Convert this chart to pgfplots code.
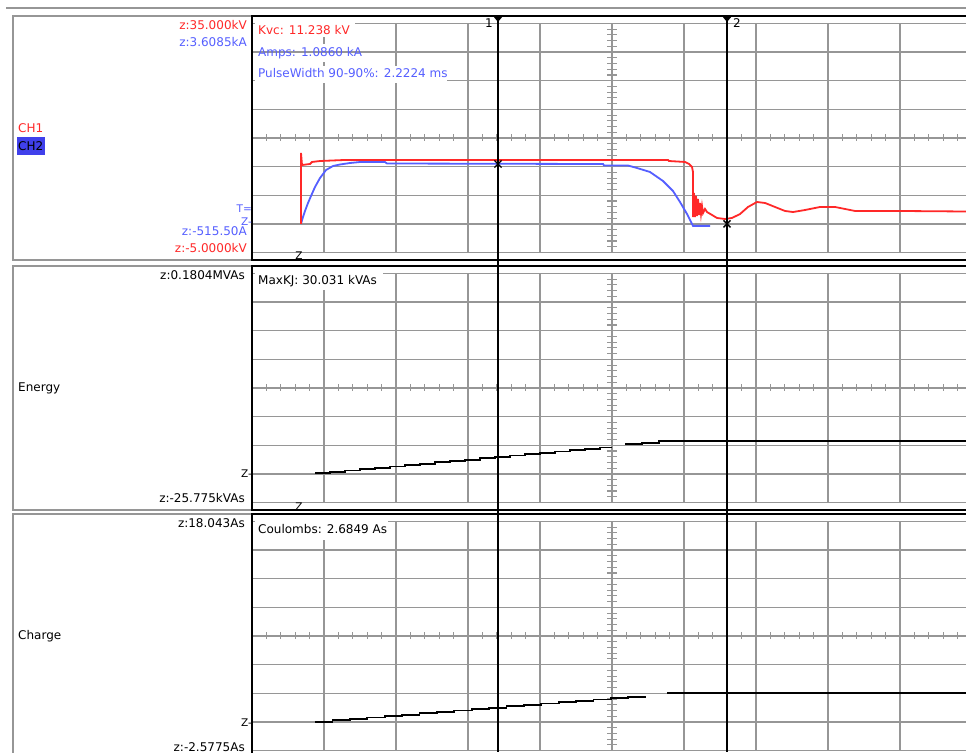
\documentclass[border=0pt]{standalone}
\usepackage{fontspec}
\setmainfont{DejaVu Sans}
\usepackage{pgfplots}
\pgfplotsset{compat=1.18}
\definecolor{chred}{RGB}{255,40,40}
\definecolor{chblue}{RGB}{85,95,255}
\definecolor{gridc}{RGB}{150,150,150}
\definecolor{chbox}{RGB}{64,64,235}
\pgfplotsset{scopeaxis/.style={scale only axis, width=714pt, xmin=-2.5, xmax=2.4583, hide axis, anchor=south west, clip=true}}
\newcommand{\lf}{\fontsize{12}{14}\selectfont}
\newcommand{\zf}{\fontsize{10.5}{12}\selectfont}
\newcommand{\panelgrid}[1]{%
 \pgfmathsetmacro{\pgG}{#1+7.5}%
 \pgfmathsetmacro{\pgB}{#1+236.5}%
 \pgfmathsetmacro{\pgC}{#1+122}%
 \foreach \k in {0,...,8}{\draw[gridc,line width=1.3pt] (252,{\pgG+28.625*\k}) -- (972,{\pgG+28.625*\k});}%
 \foreach \k in {1,...,9}{\draw[gridc,line width=1.3pt] ({252+72*\k},\pgG) -- ({252+72*\k},\pgB);}%
 \foreach \j in {1,...,39}{\draw[gridc,line width=1.1pt] (607,{\pgG+5.725*\j}) -- (617,{\pgG+5.725*\j});}%
 \foreach \j in {1,...,49}{\draw[gridc,line width=1.1pt] ({252+14.4*\j},{\pgC-3.5}) -- ({252+14.4*\j},{\pgC+3.5});}%
}
\begin{document}
\begin{tikzpicture}
\useasboundingbox (0,0) rectangle (966pt,752pt);
% ---------- background: frames, grids ----------
\begin{scope}[x=1pt,y=1pt,yshift=752pt,yscale=-1]
\clip (0,0) rectangle (966,752);
\fill[white] (0,0) rectangle (966,752);
\draw[gridc,line width=1.3pt] (6,8) -- (966,8);
\draw[gridc,line width=1.1pt] (13,16) rectangle (990,260);
\draw[gridc,line width=1.1pt] (13,266) rectangle (990,510);
\draw[gridc,line width=1.1pt] (13,514) rectangle (990,790);
\panelgrid{16}
\panelgrid{266}
\panelgrid{514}
% white text boxes
\fill[white] (255,17) rectangle (355,37);
\fill[white] (255,44) rectangle (366,62);
\draw[gridc,line width=1.3pt] (252,52.125) -- (972,52.125);
\fill[white] (255,66) rectangle (447,83);
\fill[white] (255,267) rectangle (383,290);
\fill[white] (255,515) rectangle (388,540);
% black frames
\draw[black,line width=1.6pt] (252,16) rectangle (975,260);
\draw[black,line width=1.6pt] (252,266) rectangle (975,510);
\draw[black,line width=1.6pt] (252,514) rectangle (975,790);
\end{scope}
% ---------- data ----------
\begin{axis}[scopeaxis, at={(252pt,492pt)}, height=244pt, ymin=-0.6506, ymax=3.7436]
\addplot[chblue, line width=1.8pt] coordinates {
(-2.1597,0.000) (-2.1458,0.124) (-2.1319,0.232) (-2.1111,0.376) (-2.0903,0.502)
(-2.0625,0.664) (-2.0278,0.826) (-1.9861,0.970) (-1.9375,1.042) (-1.8889,1.069)
(-1.8194,1.096) (-1.7500,1.114) (-1.5764,1.114) (-1.5625,1.087) (-0.0625,1.078)
(-0.0556,1.051) (0.1111,1.051) (0.1736,1.006) (0.2639,0.934) (0.3542,0.772)
(0.4236,0.592) (0.4722,0.394) (0.5208,0.178) (0.5625,-0.036) (0.6806,-0.036)};
\end{axis}
\begin{axis}[scopeaxis, at={(252pt,492pt)}, height=244pt, ymin=-6.310, ymax=36.310]
\addplot[chred, line width=1.8pt] coordinates {
(-2.1597,0.00) (-2.1597,12.38) (-2.1528,10.28) (-2.0972,10.46) (-2.0833,10.81)
(-2.0278,10.98) (-1.8542,11.16) (0.3889,11.16) (0.3958,10.98) (0.5069,10.81)
(0.5347,10.46) (0.5556,9.93) (0.5625,9.06) (0.5625,1.20) (0.5694,5.39)
(0.5764,1.20) (0.5833,4.87) (0.5903,1.38) (0.5972,4.35) (0.6042,1.55)
(0.6111,3.65) (0.6181,1.72) (0.6250,3.12) (0.6319,1.90) (0.6458,2.60)
(0.6597,2.07) (0.6944,1.55) (0.7292,1.03) (0.7847,0.85) (0.8333,1.03)
(0.8889,1.72) (0.9444,2.95) (1.0069,3.82) (1.0625,3.65) (1.1319,2.95)
(1.2014,2.25) (1.2569,2.07) (1.3403,2.42) (1.4444,2.95) (1.5486,2.95)
(1.6181,2.60) (1.6875,2.25) (2.0000,2.25) (2.4583,2.16)};
\end{axis}
\begin{axis}[scopeaxis, at={(252pt,492pt)}, height=244pt, ymin=-0.6506, ymax=3.7436]
\addplot[only marks, mark=x, mark size=5pt, black, line width=1.3pt] coordinates {(-0.7917,1.078) (0.7986,0.0)};
\end{axis}
\begin{axis}[scopeaxis, at={(252pt,242pt)}, height=244pt, ymin=-32.527, ymax=187.152]
\addplot[black, line width=1.8pt, const plot] coordinates {
(-2.0625,0.60) (-1.9583,1.82) (-1.8542,3.04) (-1.7500,4.26) (-1.6458,5.48)
(-1.5417,6.70) (-1.4375,7.92) (-1.3333,9.14) (-1.2292,10.36) (-1.1250,11.58)
(-1.0208,12.80) (-0.9167,14.02) (-0.8125,15.24) (-0.7083,16.46) (-0.6042,17.68)
(-0.5000,18.90) (-0.3958,20.12) (-0.2917,21.34) (-0.1875,22.56) (-0.0833,23.78)
(0.0000,23.78)};
\addplot[black, line width=1.8pt, const plot] coordinates {
(0.0903,26.6) (0.2083,28.1) (0.3264,29.4) (2.4583,29.4)};
\end{axis}
\begin{axis}[scopeaxis, at={(252pt,0pt)}, height=238pt, ymin=-2.712, ymax=18.719]
\addplot[black, line width=1.8pt, const plot] coordinates {
(-2.0625,0.02) (-1.9417,0.15) (-1.8208,0.27) (-1.7000,0.40) (-1.5792,0.52)
(-1.4583,0.65) (-1.3375,0.77) (-1.2167,0.90) (-1.0958,1.02) (-0.9750,1.15)
(-0.8542,1.27) (-0.7333,1.40) (-0.6125,1.52) (-0.4917,1.65) (-0.3708,1.77)
(-0.2500,1.90) (-0.1292,2.02) (-0.0083,2.15) (0.1125,2.27) (0.2333,2.27)};
\addplot[black, line width=1.8pt, const plot] coordinates {
(0.3819,2.63) (2.4583,2.63)};
\end{axis}
% ---------- foreground: cursors and labels ----------
\begin{scope}[x=1pt,y=1pt,yshift=752pt,yscale=-1,every node/.style={inner sep=0pt,font=\lf}]
\clip (0,0) rectangle (966,752);
\draw[black,line width=1.6pt] (498,16) -- (498,752);
\draw[black,line width=1.6pt] (727,16) -- (727,752);
\fill[black] (493,16) -- (503,16) -- (498,22) -- cycle;
\fill[black] (722,16) -- (732,16) -- (727,22) -- cycle;
\node[anchor=base east] at (493,28) {1};
\node[anchor=base west] at (733,28) {2};
% panel 1 texts
\node[anchor=base west,text=chred] at (258,35) {Kvc: 11.238 kV};
\node[anchor=base west,text=chblue] at (258,57) {Amps: 1.0860 kA};
\node[anchor=base west,text=chblue] at (258,78) {PulseWidth 90-90\%: 2.2224 ms};
\node[anchor=base east,text=chred] at (247,30) {z:35.000kV};
\node[anchor=base east,text=chblue] at (247,47) {z:3.6085kA};
\node[anchor=base east,text=chblue] at (247,236) {z:-515.50A};
\node[anchor=base east,text=chred] at (247,253) {z:-5.0000kV};
\node[anchor=base east,text=chblue,font=\zf] at (252,213) {T=};
\node[anchor=base east,text=chblue,font=\zf] at (252,226) {Z-};
\node[anchor=base west,text=chred] at (18,133) {CH1};
\fill[chbox] (17,137) rectangle (45,155);
\node[anchor=base west,text=black] at (18,151) {CH2};
\node[font=\zf] at (299,256) {Z};
% panel 2 texts
\node[anchor=base west] at (258,285) {MaxKJ: 30.031 kVAs};
\node[anchor=base east] at (245,280) {z:0.1804MVAs};
\node[anchor=base east] at (245,503) {z:-25.775kVAs};
\node[anchor=base east,font=\zf] at (252,478) {Z-};
\node[anchor=base west] at (18,392) {Energy};
\node[font=\zf] at (299,507) {Z};
% panel 3 texts
\node[anchor=base west] at (258,534) {Coulombs: 2.6849 As};
\node[anchor=base east] at (245,528) {z:18.043As};
\node[anchor=base east] at (245,751) {z:-2.5775As};
\node[anchor=base east,font=\zf] at (252,726) {Z-};
\node[anchor=base west] at (18,640) {Charge};
\end{scope}
\end{tikzpicture}
\end{document}
